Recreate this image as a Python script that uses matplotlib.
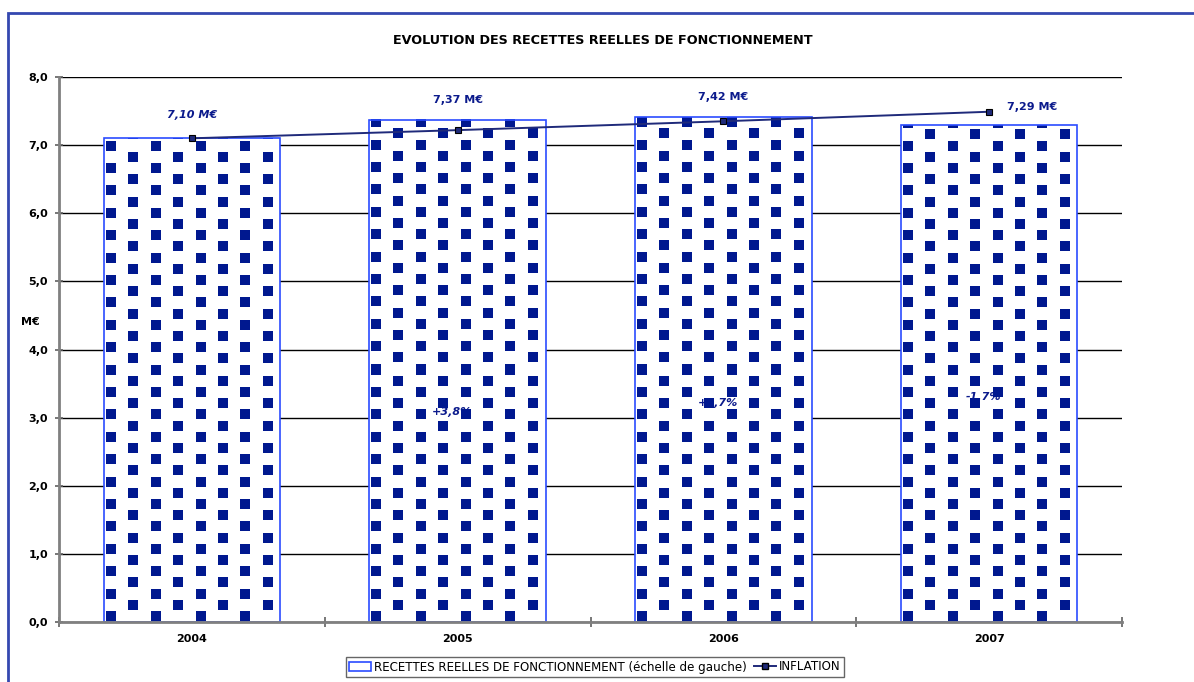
import numpy as np
import matplotlib
matplotlib.use("Agg")
import matplotlib.pyplot as plt
from matplotlib.patches import Rectangle, Patch
from matplotlib.lines import Line2D

# Données
annees = ["2004", "2005", "2006", "2007"]
recettes = [7.10, 7.37, 7.42, 7.29]
inflation = [7.10, 7.22, 7.35, 7.49]
etiquettes = ["7,10 M€", "7,37 M€", "7,42 M€", "7,29 M€"]
variations = ["", "+3,8%", "+0,7%", "-1,7%"]

# Couleurs
bleu_fonce = "#00188f"
bleu_bord = "#2b4cff"
bleu_texte = "#0b1a8c"
bleu_ligne = "#1f2a7a"

W, H = 1194, 682
fig = plt.figure(figsize=(W / 100, H / 100), dpi=100)
ax = fig.add_axes([59 / W, 60 / H, 1063 / W, 545 / H])

x = np.arange(len(annees))
ax.set_xlim(-0.5, len(annees) - 0.5)
ax.set_ylim(0, 8)

# Fond blanc des barres (cache la grille)
ax.bar(x, recettes, width=0.665, facecolor="white", edgecolor="none", zorder=2)
barres = ax.bar(x, recettes, width=0.665, facecolor="none",
                edgecolor=bleu_bord, linewidth=1.2, zorder=4)

# Motif de carrés (texture Excel) dans chaque barre
pas_x, pas_y, cote = 22.4, 22.4, 10
r, g, b = matplotlib.colors.to_rgb(bleu_fonce)
for rect in barres:
    x0, y0 = rect.get_x(), rect.get_y()
    x1, y1 = x0 + rect.get_width(), y0 + rect.get_height()
    (px0, py0), (px1, py1) = ax.transData.transform([(x0, y0), (x1, y1)])
    w, h = int(round(px1 - px0)), int(round(py1 - py0))
    u = np.arange(w)[None, :] + 0.5 - 2
    v = np.arange(h)[:, None] + 0.5 - 1
    ci = np.floor(u / pas_x)
    dans_x = (u - ci * pas_x) < cote
    vv = v - (ci % 2) * pas_y / 2
    dans_y = np.mod(vv, pas_y) < cote
    masque = dans_x & dans_y
    tex = np.zeros((h, w, 4))
    tex[masque] = (r, g, b, 1.0)
    ax.imshow(tex, extent=(x0, x1, y0, y1), origin="lower",
              interpolation="nearest", aspect="auto", zorder=3)
ax.set_xlim(-0.5, len(annees) - 0.5)
ax.set_ylim(0, 8)

ax.plot(x, inflation, color=bleu_ligne, linewidth=1.4, marker="s",
        markersize=4.5, markerfacecolor=bleu_ligne, markeredgecolor="black",
        markeredgewidth=0.8, zorder=5)

# Étiquettes de valeurs
pos_etiq = [(0, 7.44, "italic"), (0, 7.66, "normal"), (0, 7.71, "normal"), (0.16, 7.56, "normal")]
for i, (dx, yy, st) in enumerate(pos_etiq):
    ax.text(x[i] + dx, yy, etiquettes[i], ha="center", va="center", fontsize=8,
            fontweight="bold", style=st, color=bleu_texte, zorder=6)
pos_var = [0, 3.08, 3.21, 3.30]
for i in range(1, len(annees)):
    ax.text(x[i] - 0.02, pos_var[i], variations[i], ha="center", va="center",
            fontsize=8, fontweight="bold", style="italic", color=bleu_texte, zorder=2.5)

# Axes
ax.set_yticks(np.arange(0, 9, 1))
ax.set_yticklabels([f"{v:.1f}".replace(".", ",") for v in np.arange(0, 9, 1)],
                   fontsize=8, fontweight="bold")
ax.set_xticks(x)
ax.set_xticklabels(annees, fontsize=8, fontweight="bold")
ax.set_xticks(np.arange(-0.5, len(annees)), minor=True)
ax.tick_params(axis="x", which="major", length=0, pad=9)
ax.tick_params(axis="x", which="minor", length=7, direction="inout", color="#606060", width=1.2)
ax.tick_params(axis="y", length=6, direction="inout", color="#606060", width=1.2, pad=5)
ax.yaxis.grid(True, color="black", linewidth=1)
ax.set_axisbelow(True)
for s in ["top", "right"]:
    ax.spines[s].set_visible(False)
for s in ["left", "bottom"]:
    ax.spines[s].set_color("#808080")
    ax.spines[s].set_linewidth(2)
    ax.spines[s].set_zorder(7)
ax.text(-0.027, 0.55, "M€", transform=ax.transAxes, ha="center", va="center",
        fontsize=8, fontweight="bold")

fig.text(603 / W, 1 - 40 / H, "EVOLUTION DES RECETTES REELLES DE FONCTIONNEMENT",
         ha="center", va="center", fontsize=9.2, fontweight="bold")

poignees = [Patch(facecolor="white", edgecolor=bleu_bord, linewidth=1.2),
            Line2D([], [], color=bleu_ligne, marker="s", markersize=4,
                   markerfacecolor=bleu_ligne, markeredgecolor="black", linewidth=1.4)]
leg = fig.legend(poignees, ["RECETTES REELLES DE FONCTIONNEMENT (échelle de gauche)", "INFLATION"],
                 loc="center", bbox_to_anchor=(595 / W, 1 - 667 / H), ncol=2,
                 fontsize=8.6, frameon=True, fancybox=False, borderpad=0.3,
                 handlelength=1.8, handletextpad=0.3, columnspacing=0.6)
leg.get_frame().set_edgecolor("#404040")
leg.get_frame().set_linewidth(1)

# Cadre extérieur
fig.patches.append(Rectangle((8 / W, -0.1), 1.2, 1 - 13 / H + 0.1, transform=fig.transFigure,
                             fill=False, edgecolor="#3448b0", linewidth=2))

fig.savefig("out.png", dpi=100)
